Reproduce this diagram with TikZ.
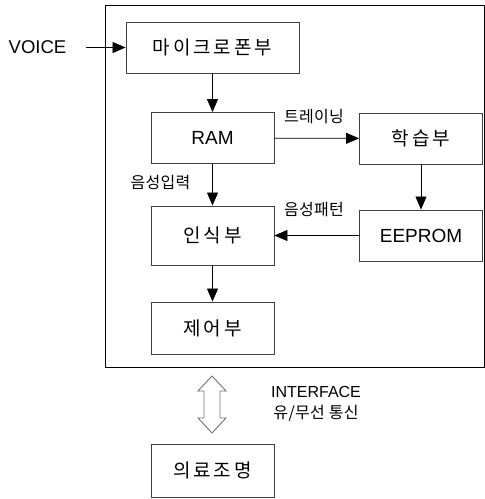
\documentclass[tikz,border=0pt]{standalone}
\usepackage{fontspec}
\setmainfont{Liberation Sans}
\newfontfamily\kr{Noto Sans CJK KR}[LetterSpace=15]
\newfontfamily\krl{Noto Sans CJK KR}[LetterSpace=2]
\usetikzlibrary{arrows.meta}
\begin{document}
\begin{tikzpicture}[x=1pt,y=-1pt,
  blk/.style={draw=black!75,line width=0.9pt,minimum width=123pt,minimum height=51pt,inner sep=0pt,font=\fontsize{19}{22}\selectfont},
  lbl/.style={inner sep=0pt,font=\krl\fontsize{16}{18}\selectfont},
  arr/.style={line width=0.8pt,-{Triangle[length=13pt,width=11pt]}}]
\useasboundingbox (0,0) rectangle (485,499);
\draw[line width=1pt] (105,5) rectangle (484,367);
\node[blk] (mic) at (212.5,47.5) [minimum width=173pt] {\kr 마이크로폰부};
\node[blk] (ram) at (212.5,138) {RAM};
\node[blk] (learn) at (421,138.5) {\kr 학습부};
\node[blk] (eep) at (421,235.5) {EEPROM};
\node[blk] (rec) at (212.5,235.5) [minimum height=59pt] {\kr 인식부};
\node[blk] (ctl) at (212.5,328) [minimum height=52pt] {\kr 제어부};
\node[blk] (med) at (212.5,470.5) [minimum height=53pt] {\kr 의료조명};
\node[inner sep=0pt,font=\fontsize{18.5}{20}\selectfont] (voice) at (37.5,47.5) {VOICE};
\coordinate (vs) at (86,47.5);
\draw[arr] (vs) -- (mic.west);
\draw[arr] (mic.south -| ram.north) -- (ram.north);
\draw[arr] (ram) -- (learn);
\draw[arr] (learn) -- (eep);
\draw[arr] (eep) -- (rec);
\draw[arr] (ram) -- (rec);
\draw[arr] (rec) -- (ctl);
\node[lbl] (t1) at (314,117) {트레이닝};
\node[lbl] (t2) at (160.5,183) {음성입력};
\node[lbl] (t3) at (314,210) {음성패턴};
\node[inner sep=0pt,font=\fontsize{16}{18}\selectfont] (if1) at (316,392) {INTERFACE};
\node[lbl] (if2) at (316,413) {유/무선 통신};
\draw[draw=black!55,line width=0.9pt,fill=white]
  (212,376) -- (226,391) -- (220,391) -- (220,418) -- (226,418) -- (212,433)
  -- (198,418) -- (204,418) -- (204,391) -- (198,391) -- cycle;
\end{tikzpicture}
\end{document}
